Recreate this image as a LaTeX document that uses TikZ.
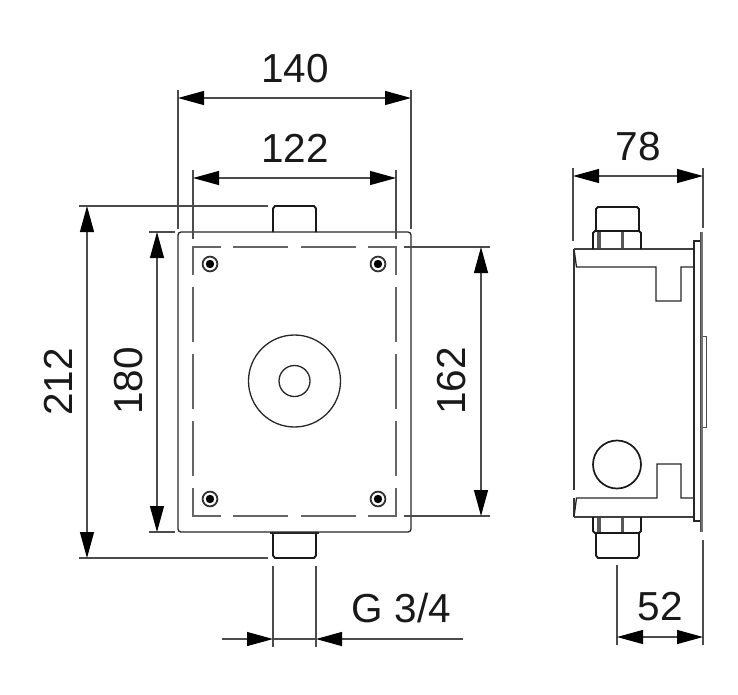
\documentclass[tikz,border=0pt]{standalone}
\usepackage{fontspec}
\setmainfont{Liberation Sans}
\usetikzlibrary{arrows.meta}
\tikzset{
  dimtip/.tip={Triangle[length=26pt,width=14pt,color=black,fill=black]},
  dimline/.style={line width=1.1pt,draw=black!70,{dimtip}-{dimtip}},
  tipin/.style={line width=1.1pt,draw=black!70,-{dimtip}},
  extline/.style={line width=1.1pt,draw=black!70},
  outline/.style={line width=1.3pt,draw=black!85},
  heavy/.style={line width=1.9pt,draw=black!90},
  hidden/.style={line width=1.7pt,draw=black!60},
  dimtext/.style={font=\fontsize{40.5}{40}\selectfont,text=black!90,inner sep=0pt},
}
\begin{document}
\begin{tikzpicture}[x=1pt,y=-1pt]
\useasboundingbox (0,0) rectangle (738,694);
% --- front view ---
\draw[outline,rounded corners=3pt] (178,232) rectangle (411,532);
\draw[heavy] (273,232) -- (273,208.5) -- (275,206) -- (314,206) -- (316,208.5) -- (316,232);
\draw[heavy] (273,532) -- (273,555.5) -- (275,558) -- (314,558) -- (316,555.5) -- (316,532);
\draw[outline] (270,533) -- (319,533);
% hidden rectangle
\draw[hidden] (221,247) -- (193,247) -- (193,275);
\draw[hidden] (233,247) -- (288,247);
\draw[hidden] (301,247) -- (356,247);
\draw[hidden] (368,247) -- (396,247) -- (396,275);
\draw[hidden] (221,516) -- (193,516) -- (193,488);
\draw[hidden] (233,516) -- (288,516);
\draw[hidden] (301,516) -- (356,516);
\draw[hidden] (368,516) -- (396,516) -- (396,488);
\foreach \a/\b in {287/342,354/409,421/476}{
  \draw[hidden] (193,\a) -- (193,\b);
  \draw[hidden] (396,\a) -- (396,\b);
}
% screws
\foreach \x/\y in {210/264,378/264,210/499,378/499}{
  \draw[line width=1.8pt,draw=black!80] (\x,\y) circle (7.4);
  \fill[black] (\x,\y) circle (4.2);
}
\draw[outline] (294.5,381) circle (46);
\draw[outline] (294.5,381) circle (15.5);
% --- side view ---
\draw[line width=1.7pt,draw=black!80] (574,249) -- (574,490);
\draw[line width=1.7pt,draw=black!80] (574,498) -- (574,517);
\draw[outline] (574,249) -- (576.5,267) -- (656,267) -- (656,301) -- (681,301) -- (681,267) -- (694,267);
\draw[outline] (574,517) -- (576.5,498) -- (657,498) -- (657,464) -- (681,464) -- (681,498) -- (694,498);
\draw[line width=1.9pt,draw=black!75] (574,249) -- (694,249);
\draw[line width=1.9pt,draw=black!75] (574,517) -- (694,517);
\draw[outline] (694,249) -- (694,241) -- (700,241);
\draw[outline] (694,249) -- (694,521) -- (700,521);
\fill[black!55] (700,232) rectangle (703,532);
\draw[line width=1pt,draw=black!70] (700,232) -- (700,532);
\draw[line width=1pt,draw=black!70] (703,336) -- (706,336) -- (706,427) -- (703,427);
\draw[line width=1.7pt,draw=black!90] (617,464.5) circle (24);
% top fitting
\draw[heavy] (596,231) -- (596,209) -- (598,207) -- (637,207) -- (639,209) -- (639,231);
\draw[heavy] (593,249) -- (593,233) -- (595,231) -- (639,231) -- (641,233) -- (641,249);
\fill[black!65] (597,232) rectangle (600.5,248);
\fill[black!65] (621,232) rectangle (624,248);
% bottom fitting
\draw[heavy] (596,533) -- (596,555.5) -- (598,558) -- (637,558) -- (639,555.5) -- (639,533);
\draw[heavy] (593,517) -- (593,531) -- (595,533) -- (639,533) -- (641,531) -- (641,517);
\fill[black!65] (597,518) rectangle (600.5,532);
\fill[black!65] (621,518) rectangle (624,532);
% --- dimension anchors ---
\coordinate (d140a) at (178,98);   \coordinate (d140b) at (411,98);
\coordinate (d122a) at (193,178);  \coordinate (d122b) at (396,178);
\coordinate (d212a) at (87,206);   \coordinate (d212b) at (87,558);
\coordinate (d180a) at (157,232);  \coordinate (d180b) at (157,532);
\coordinate (d162a) at (481,247);  \coordinate (d162b) at (481,516);
\coordinate (d78a) at (573,176);   \coordinate (d78b) at (703,176);
\coordinate (d52a) at (617,637);   \coordinate (d52b) at (703,637);
\coordinate (gl) at (222,639);     \coordinate (gla) at (273,639);
\coordinate (gr) at (463,639);     \coordinate (gra) at (316,639);
% extension lines
\draw[extline] (178,90) -- (178,229);
\draw[extline] (411,90) -- (411,229);
\draw[extline] (193,170) -- (193,239);
\draw[extline] (396,170) -- (396,239);
\draw[extline] (79,206) -- (268,206);
\draw[extline] (79,558) -- (268,558);
\draw[extline] (149,232) -- (175,232);
\draw[extline] (149,532) -- (175,532);
\draw[extline] (404,247) -- (490,247);
\draw[extline] (404,516) -- (490,516);
\draw[extline] (273,566) -- (273,647);
\draw[extline] (316,566) -- (316,647);
\draw[extline] (573,168) -- (573,241);
\draw[extline] (703,168) -- (703,228);
\draw[extline] (617,565) -- (617,645);
\draw[extline] (703,540) -- (703,645);
% dimension lines
\draw[dimline] (d140a) -- (d140b);
\draw[dimline] (d122a) -- (d122b);
\draw[dimline] (d212a) -- (d212b);
\draw[dimline] (d180a) -- (d180b);
\draw[dimline] (d162a) -- (d162b);
\draw[dimline] (d78a) -- (d78b);
\draw[dimline] (d52a) -- (d52b);
\draw[tipin] (gl) -- (gla);
\draw[tipin] (gr) -- (gra);
\draw[extline] (gla) -- (gra);
% labels
\node[dimtext] (t140) at (295,69) {140};
\node[dimtext] (t122) at (295,148) {122};
\node[dimtext,rotate=90] (t212) at (58,382) {212};
\node[dimtext,rotate=90] (t180) at (129,381) {180};
\node[dimtext,rotate=90] (t162) at (452,381) {162};
\node[dimtext] (t78) at (638,147) {78};
\node[dimtext] (t52) at (660,607) {52};
\node[dimtext] (tg) at (401.5,608) {G 3/4};
\end{tikzpicture}
\end{document}
